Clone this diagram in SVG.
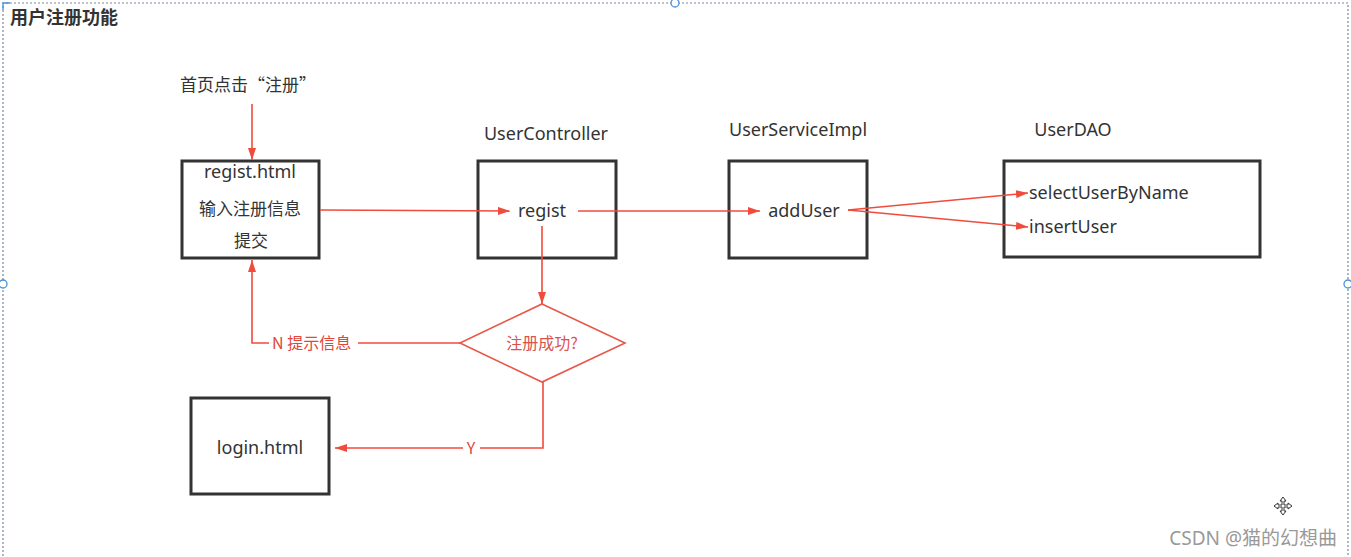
<svg xmlns="http://www.w3.org/2000/svg" width="1351" height="557" viewBox="0 0 1351 557">
<defs>
<style>
.box{fill:#fff;stroke:#333;stroke-width:3}
.t{font-family:"Noto Sans","Noto Sans CJK SC",sans-serif;font-size:18px;fill:#333}
.tc{font-family:"Noto Sans CJK SC","Noto Sans",sans-serif;font-size:17px;fill:#333}
.r{fill:none;stroke:#f04b3c;stroke-width:1.6}
.rt{font-family:"Noto Sans CJK SC","Noto Sans",sans-serif;font-size:16px;fill:#e0473a}
.frame{fill:none;stroke:#7a8899;stroke-width:1.2;stroke-dasharray:2 2}
.h{fill:#fff;stroke:#4a90d9;stroke-width:1.3}
</style>
<marker id="a" viewBox="0 0 12 8" refX="12" refY="4" markerWidth="12" markerHeight="8" markerUnits="userSpaceOnUse" orient="auto">
<path d="M0,0 L12,4 L0,8 z" fill="#f04b3c"/>
</marker>
</defs>
<rect width="1351" height="557" fill="#fff"/>
<g id="frame">
<path class="frame" d="M3,560 V3 H1348 V560"/>
<path d="M3,10 V3 H10" fill="none" stroke="#4a90d9" stroke-width="1.3"/>
<circle class="h" cx="675" cy="3" r="4"/>
<circle class="h" cx="3" cy="284" r="4"/>
<circle class="h" cx="1348" cy="284" r="4"/>
<text x="10" y="24" style="font-family:'Noto Sans CJK SC',sans-serif;font-size:18px;font-weight:bold;fill:#333">用户注册功能</text>
</g>
<g id="start">
<text class="tc" x="180" y="91">首页点击“注册”</text>
</g>
<g id="regist-html">
<rect class="box" x="182" y="161" width="137" height="97"/>
<text class="t" x="250" y="178" text-anchor="middle">regist.html</text>
<text class="tc" x="250" y="215" text-anchor="middle">输入注册信息</text>
<text class="tc" x="251" y="247" text-anchor="middle">提交</text>
</g>
<g id="user-controller">
<text class="t" x="546" y="140" text-anchor="middle">UserController</text>
<rect class="box" x="478" y="161" width="138" height="97"/>
<text class="t" x="542" y="217" text-anchor="middle">regist</text>
</g>
<g id="user-service">
<text class="t" x="798" y="136" text-anchor="middle">UserServiceImpl</text>
<rect class="box" x="729" y="161" width="138" height="97"/>
<text class="t" x="804" y="217" text-anchor="middle">addUser</text>
</g>
<g id="user-dao">
<text class="t" x="1073" y="136" text-anchor="middle">UserDAO</text>
<rect class="box" x="1004" y="161" width="256" height="96"/>
<text class="t" x="1029" y="199">selectUserByName</text>
<text class="t" x="1029" y="233">insertUser</text>
</g>
<g id="decision">
<polygon points="542,304 625,343 542,382 460,343" fill="#fff" stroke="#e8574a" stroke-width="1.6"/>
<text x="542" y="349" text-anchor="middle" style="font-family:'Noto Sans CJK SC',sans-serif;font-size:16px;fill:#d9534f">注册成功?</text>
</g>
<g id="login-html">
<rect class="box" x="191" y="398" width="138" height="96"/>
<text class="t" x="260" y="454" text-anchor="middle">login.html</text>
</g>
<g id="connectors">
<line class="r" x1="320" y1="210" x2="510" y2="211" marker-end="url(#a)"/>
<line class="r" x1="252" y1="104" x2="252" y2="160" marker-end="url(#a)"/>
<line class="r" x1="578" y1="211" x2="760" y2="211" marker-end="url(#a)"/>
<line class="r" x1="848" y1="210" x2="1028" y2="193" marker-end="url(#a)"/>
<line class="r" x1="848" y1="210" x2="1028" y2="227" marker-end="url(#a)"/>
<line class="r" x1="542" y1="226" x2="542" y2="304" marker-end="url(#a)"/>
<polyline class="r" points="460,343 358,343"/>
<polyline class="r" points="269,343 252,343 252,260" marker-end="url(#a)"/>
<polyline class="r" points="543,382 543,448 480,448"/>
<line class="r" x1="463" y1="448" x2="335" y2="448" marker-end="url(#a)"/>
<text class="rt" x="272" y="349">N 提示信息</text>
<text class="rt" x="471" y="454" text-anchor="middle">Y</text>
</g>
<g id="watermark">
<path d="M1283,497 l3,4 h-2 v4 h4 v-2 l4,3 -4,3 v-2 h-4 v4 h2 l-3,4 -3,-4 h2 v-4 h-4 v2 l-4,-3 4,-3 v2 h4 v-4 h-2 z" fill="#fff" stroke="#333" stroke-width="1"/>
<text x="1337" y="545" text-anchor="end" style="font-family:'Noto Sans','Noto Sans CJK SC',sans-serif;font-size:19px;fill:#999">CSDN @猫的幻想曲</text>
</g>
</svg>
